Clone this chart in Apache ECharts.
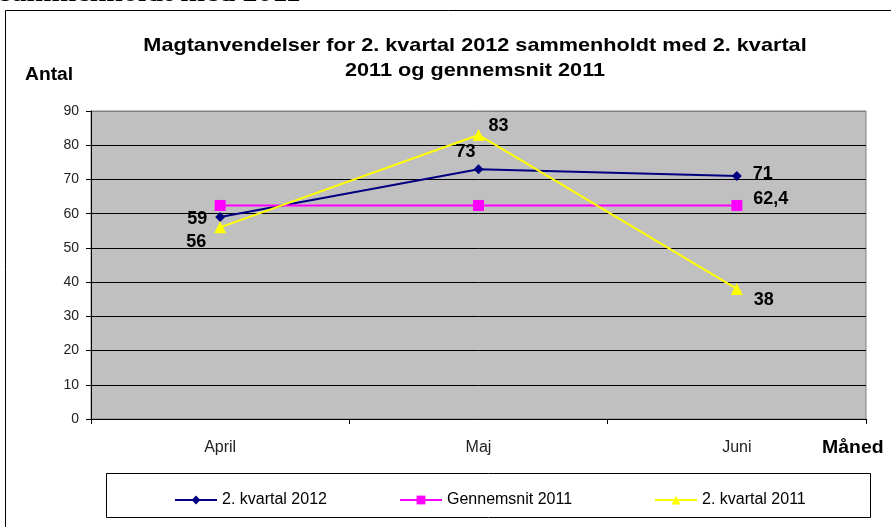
<!DOCTYPE html>
<html><head><meta charset="utf-8">
<script src="https://cdn.jsdelivr.net/npm/echarts@6/dist/echarts.min.js"></script>
<style>html,body{margin:0;padding:0;background:#fff}#c{width:891px;height:527px}</style>
</head><body><div id="c"></div>
<script>
const categories = ['April', 'Maj', 'Juni'];
const seriesNames = ['2. kvartal 2012', 'Gennemsnit 2011', '2. kvartal 2011'];
const kvartal2012 = [59, 73, 71];
const gennemsnit2011 = [62.4, 62.4, 62.4];
const kvartal2011 = [56, 83, 38];
const yTicks = [0, 10, 20, 30, 40, 50, 60, 70, 80, 90];

// label placement (style only)
const lab2012 = [{position:'left', distance:8, offset:[0,2]}, {position:'top', distance:5, offset:[-13,2]}, {position:'right', distance:11, offset:[0,-2]}];
const labGns = [null, null, {position:'right', distance:11, offset:[0,-6]}];
const lab2011 = [{position:'left', distance:8, offset:[0,15]}, {position:'right', distance:4, offset:[0,-9]}, {position:'right', distance:11, offset:[0,11]}];

const labFont = {fontFamily:'Arial, Liberation Sans', fontWeight:'bold', fontSize:18, color:'#000'};
function mk(vals, labs){
  return vals.map((v,i)=>{
    const l = labs[i];
    return l ? {value:v, label:Object.assign({show:true, formatter:p=>String(p.value).replace('.',',')}, labFont, l)} : {value:v, label:{show:false}};
  });
}

const chart = echarts.init(document.getElementById('c'), null, {renderer:'canvas'});
const gridColors = yTicks.map((t,i)=> i===yTicks.length-1 ? '#808080' : '#000');
const legendBase = {top:487, itemWidth:42, itemHeight:11, itemGap:4, textStyle:{fontSize:16, color:'#000', fontFamily:'Arial, Liberation Sans'}};
chart.setOption({
  animation:false,
  textStyle:{fontFamily:'Arial, Liberation Sans'},
  grid:{left:91, right:25, top:111, bottom:108, show:true, backgroundColor:'#c0c0c0', borderColor:'#808080', borderWidth:1},
  xAxis:{type:'category', data:categories, boundaryGap:true,
    axisLine:{lineStyle:{color:'#000', width:1}},
    axisTick:{show:true, interval:0, length:5, lineStyle:{color:'#000'}},
    axisLabel:{margin:21, fontSize:16, color:'#222', fontFamily:'Arial, Liberation Sans'}},
  yAxis:{type:'value', min:0, max:90, interval:10,
    axisLine:{show:true, lineStyle:{color:'#000', width:1}},
    axisTick:{show:true, length:5, lineStyle:{color:'#000'}},
    axisLabel:{margin:12, fontSize:14, color:'#222', fontFamily:'Arial, Liberation Sans'},
    splitLine:{show:true, lineStyle:{color:gridColors, width:1}}},
  legend:[
    Object.assign({left:169, data:[seriesNames[0]]}, legendBase),
    Object.assign({left:394, data:[seriesNames[1]]}, legendBase),
    Object.assign({left:649, data:[seriesNames[2]]}, legendBase)
  ],
  series:[
    {name:seriesNames[0], type:'line', data:mk(kvartal2012, lab2012), symbol:'diamond', symbolSize:10,
      itemStyle:{color:'#000080'}, lineStyle:{color:'#000080', width:2}},
    {name:seriesNames[1], type:'line', data:mk(gennemsnit2011, labGns), symbol:'rect', symbolSize:11,
      itemStyle:{color:'#ff00ff'}, lineStyle:{color:'#ff00ff', width:2}},
    {name:seriesNames[2], type:'line', data:mk(kvartal2011, lab2011), symbol:'triangle', symbolSize:12,
      itemStyle:{color:'#ffff00'}, lineStyle:{color:'#ffff00', width:2}}
  ],
  graphic:[
    {type:'text', x:0, y:-19, scaleX:1.15, style:{text:'sammenholdt med 2011', fontFamily:'Liberation Serif, Times New Roman', fontWeight:'bold', fontSize:26, fill:'#000'}},
    {type:'rect', shape:{x:5.5, y:10.5, width:1000, height:1000}, style:{fill:'none', stroke:'#000', lineWidth:1}, z:-1},
    {type:'rect', shape:{x:106.5, y:473.5, width:764, height:44}, style:{fill:'#fff', stroke:'#000', lineWidth:1}, z:-1},
    {type:'text', x:475, y:33, scaleX:1.14, style:{text:'Magtanvendelser for 2. kvartal 2012 sammenholdt med 2. kvartal\n2011 og gennemsnit 2011', align:'center', fontFamily:'Arial, Liberation Sans', fontWeight:'bold', fontSize:19, lineHeight:25, fill:'#000'}},
    {type:'text', x:25, y:66, scaleX:1.07, style:{text:'Antal', fontFamily:'Arial, Liberation Sans', fontWeight:'bold', fontSize:18, fill:'#000'}},
    {type:'text', x:822, y:439, scaleX:1.08, style:{text:'Måned', fontFamily:'Arial, Liberation Sans', fontWeight:'bold', fontSize:18, fill:'#000'}}
  ]
});
</script></body></html>
